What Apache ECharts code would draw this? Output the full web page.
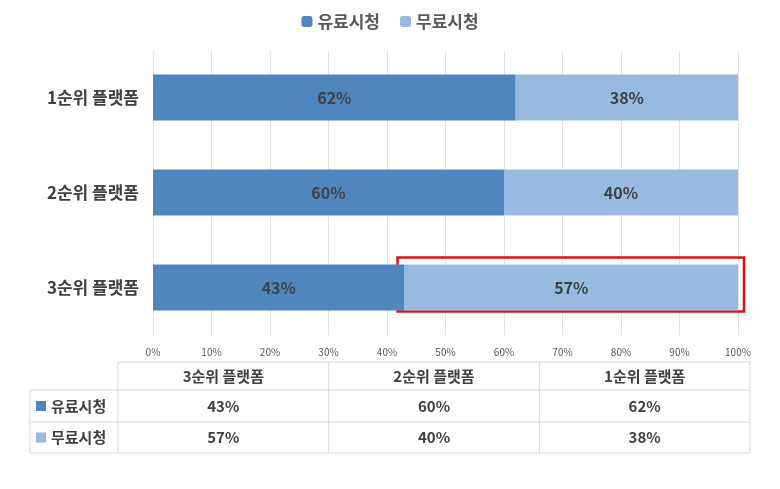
<!DOCTYPE html>
<html><head><meta charset="utf-8">
<script src="https://cdn.jsdelivr.net/npm/echarts@6/dist/echarts.min.js"></script>
<style>html,body{margin:0;padding:0;background:#fff}#c{width:780px;height:489px}</style>
</head><body><div id="c"></div>
<script>
const categories = ['1순위 플랫폼', '2순위 플랫폼', '3순위 플랫폼'];
const seriesNames = ['유료시청', '무료시청'];
const paid = [62, 60, 43];
const free = [38, 40, 57];
const xTicks = [0,10,20,30,40,50,60,70,80,90,100];
const colors = ['#4f86bd', '#98b9e0'];
const FONT = '"Noto Sans CJK KR", "Noto Sans", sans-serif';

const chart = echarts.init(document.getElementById('c'));
const lbl = {show:true, position:'inside', formatter:'{c}%', fontSize:16, fontWeight:'bold', color:'#404040', fontFamily:FONT};
chart.setOption({
  animation:false,
  legend:{top:8, left:'center', itemWidth:11, itemHeight:11, itemGap:20,
    textStyle:{fontSize:17, fontWeight:'bold', color:'#595959', fontFamily:FONT},
    data:seriesNames},
  grid:{left:153, right:42, top:50, bottom:154},
  xAxis:{type:'value', min:0, max:100, interval:10,
    axisLabel:{formatter:v=>v+'%', fontSize:10, color:'#595959', margin:12, fontFamily:FONT},
    splitLine:{lineStyle:{color:'#e3e3e3'}}, axisLine:{show:false}, axisTick:{show:false}},
  yAxis:{type:'category', data:categories, inverse:true,
    axisLabel:{fontSize:17, fontWeight:'bold', color:'#404040', margin:14, fontFamily:FONT},
    axisLine:{show:false}, axisTick:{show:false}},
  series:[
    {name:seriesNames[0], type:'bar', stack:'s', data:paid, barWidth:46, itemStyle:{color:colors[0]}, label:lbl},
    {name:seriesNames[1], type:'bar', stack:'s', data:free, barWidth:46, itemStyle:{color:colors[1]}, label:lbl}
  ]
});

// annotation + data table
const g = [];
const p0 = chart.convertToPixel({gridIndex:0}, [paid[2], 2]);
const p1 = chart.convertToPixel({gridIndex:0}, [100, 2]);
g.push({type:'rect', shape:{x:p0[0]-7, y:p0[1]-30, width:p1[0]-p0[0]+13, height:54},
  style:{fill:'none', stroke:'#e01010', lineWidth:2.5}});

const tL = 118, tR = 750, lblL = 30, rows = [362, 390, 422, 453];
const colW = (tR - tL) / 3;
const line = (x1,y1,x2,y2)=>g.push({type:'line', shape:{x1,y1,x2,y2}, style:{stroke:'#d9d9d9', lineWidth:1}});
line(tL, rows[0], tR, rows[0]);
line(lblL, rows[1], tR, rows[1]);
line(lblL, rows[2], tR, rows[2]);
line(lblL, rows[3], tR, rows[3]);
line(tL, rows[0], tL, rows[3]);
for (let i=1;i<=3;i++) line(tL+colW*i, rows[0], tL+colW*i, rows[3]);
line(lblL, rows[1], lblL, rows[3]);
const txt = (x,y,t,align)=>g.push({type:'text', x, y, style:{text:t, fill:'#404040', fontSize:15, fontWeight:'bold', fontFamily:FONT, align:align||'center', verticalAlign:'middle'}});
const order = [2,1,0];
order.forEach((ci,j)=>{
  const cx = tL + colW*(j+0.5);
  txt(cx, (rows[0]+rows[1])/2, categories[ci]);
  txt(cx, (rows[1]+rows[2])/2, paid[ci]+'%');
  txt(cx, (rows[2]+rows[3])/2, free[ci]+'%');
});
[0,1].forEach(k=>{
  const cy = (rows[k+1]+rows[k+2])/2;
  g.push({type:'rect', shape:{x:36, y:cy-5, width:10, height:10}, style:{fill:colors[k]}});
  txt(51, cy, seriesNames[k], 'left');
});
chart.setOption({graphic:g});
</script></body></html>
